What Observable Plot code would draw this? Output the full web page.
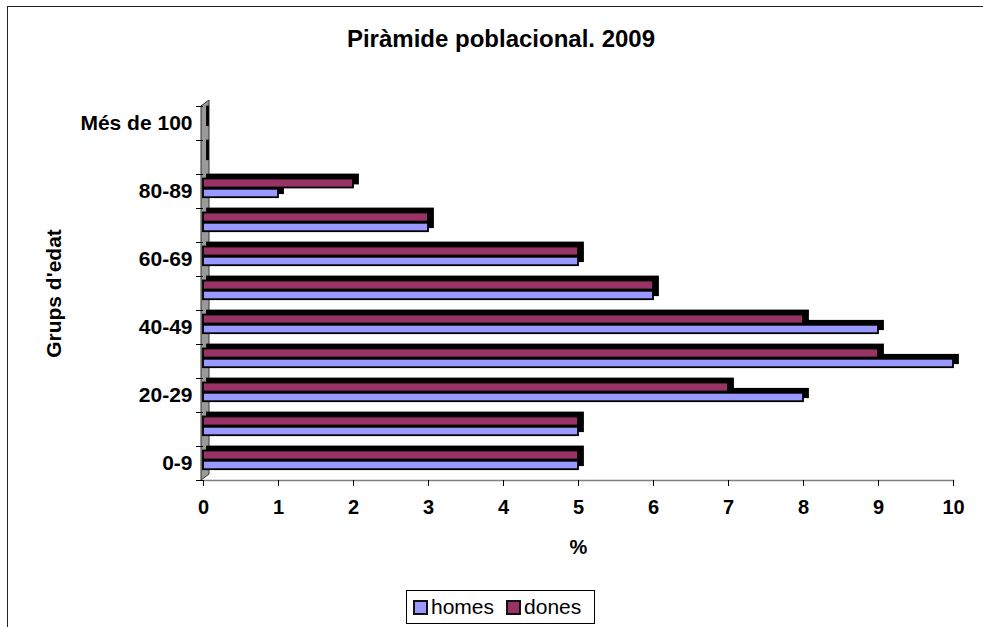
<!DOCTYPE html>
<html>
<head>
<meta charset="utf-8">
<script src="https://cdn.jsdelivr.net/npm/d3@7"></script>
<script src="https://cdn.jsdelivr.net/npm/@observablehq/plot@0.6"></script>
<style>
  html, body { margin: 0; padding: 0; background: #fff; }
  #wrap { position: relative; width: 983px; height: 627px; overflow: hidden; font-family: "Liberation Sans", Arial, sans-serif; }
  #border { position: absolute; left: 7px; top: 6px; width: 1200px; height: 1200px; border-top: 1.5px solid #222; border-left: 1.5px solid #222; }
  #title { position: absolute; left: 0; width: 1002px; top: 25px; text-align: center; font-weight: bold; font-size: 24px; color: #000; }
  #chart { position: absolute; left: 0; top: 0; }
  #legend { position: absolute; left: 406px; top: 590px; width: 187px; height: 32px; border: 1px solid #000; background: #fff; display: flex; align-items: center; font-size: 21px; }
  .sw { display: inline-block; width: 11px; height: 11px; border: 2px solid #111; margin-left: 6px; margin-right: 3px; }
</style>
</head>
<body>
<div id="wrap">
  <div id="border"></div>
  <div id="chart"></div>
  <div id="title">Piràmide poblacional. 2009</div>
  <div id="legend"></div>
</div>
<script>
const categories = ["0-9","10-19","20-29","30-39","40-49","50-59","60-69","70-79","80-89","90-99","Més de 100"];
const homes = [5, 5, 8, 10, 9, 6, 5, 3, 1, 0, 0];
const dones = [5, 5, 7, 9, 8, 6, 5, 3, 2, 0, 0];
const xTicks = [0, 1, 2, 3, 4, 5, 6, 7, 8, 9, 10];
const shownLabels = ["0-9", "20-29", "40-49", "60-69", "80-89", "Més de 100"];
const seriesNames = ["homes", "dones"];
const seriesColors = ["#9999FF", "#993366"];

const rows = categories.map((c, i) => ({group: c, homes: homes[i], dones: dones[i]}));

const W = 983, H = 627, mT = 106, mB = 147, mL = 203, mR = 30;
const bw = (H - mT - mB) / categories.length;
const depth = 4;

function wall(index, scales, values, dimensions) {
  const x0 = scales.x(0);
  const top = dimensions.marginTop;
  const bottom = dimensions.height - dimensions.marginBottom;
  const p = d3.create("svg:polygon")
    .attr("points", [[x0 - 2, top], [x0 + 6, top - 6], [x0 + 6, bottom - 6], [x0 - 2, bottom]].map(d => d.join(",")).join(" "))
    .attr("fill", "#9a9a9a")
    .attr("stroke", "#333")
    .attr("stroke-width", 1);
  return p.node();
}

function barPair(key, color, insetTop, insetBottom) {
  return [
    Plot.barX(rows, {x: key, y: "group", insetTop, insetBottom, insetRight: -1, dx: depth, dy: -depth, fill: "#000", stroke: "#000", strokeWidth: 1.8}),
    Plot.barX(rows, {x: key, y: "group", insetTop, insetBottom, fill: color, stroke: "#000", strokeWidth: 1.8})
  ];
}

const chart = Plot.plot({
  width: W, height: H,
  marginTop: mT, marginBottom: mB, marginLeft: mL, marginRight: mR,
  x: {domain: [0, 10]},
  y: {domain: categories.slice().reverse(), padding: 0},
  style: {fontFamily: "'Liberation Sans', Arial, sans-serif", background: "transparent", color: "#000"},
  marks: [
    wall,
    Plot.frame({anchor: "bottom", stroke: "#808080", strokeWidth: 1.5}),
    Plot.axisX({ticks: xTicks, tickSize: 6, tickPadding: 13, fontSize: 20, fontWeight: "bold", label: null, tickFormat: d => String(d)}),
    Plot.axisY({ticks: categories, tickSize: 7, text: null, label: null, dy: bw / 2}),
    Plot.axisY({ticks: [categories[categories.length - 1]], tickSize: 7, text: null, label: null, dy: -bw / 2}),
    Plot.axisY({ticks: shownLabels, tickSize: 0, tickPadding: 11, fontSize: 21, fontWeight: "bold", label: null}),
    ...barPair(seriesNames[0], seriesColors[0], 14.8, 34 - 23.2),
    ...barPair(seriesNames[1], seriesColors[1], 4.5, 34 - 13.5),
    Plot.text(["%"], {frameAnchor: "bottom", dy: 73, fontSize: 20, fontWeight: "bold"}),
    Plot.text(["Grups d'edat"], {frameAnchor: "left", dx: -149, rotate: -90, textAnchor: "middle", fontSize: 21, fontWeight: "bold"})
  ]
});
document.getElementById("chart").appendChild(chart);

const legend = document.getElementById("legend");
seriesNames.forEach((n, i) => {
  const sw = document.createElement("span");
  sw.className = "sw";
  sw.style.background = seriesColors[i];
  if (i > 0) sw.style.marginLeft = "12px";
  legend.appendChild(sw);
  const t = document.createElement("span");
  t.textContent = n;
  legend.appendChild(t);
});
</script>
</body>
</html>
